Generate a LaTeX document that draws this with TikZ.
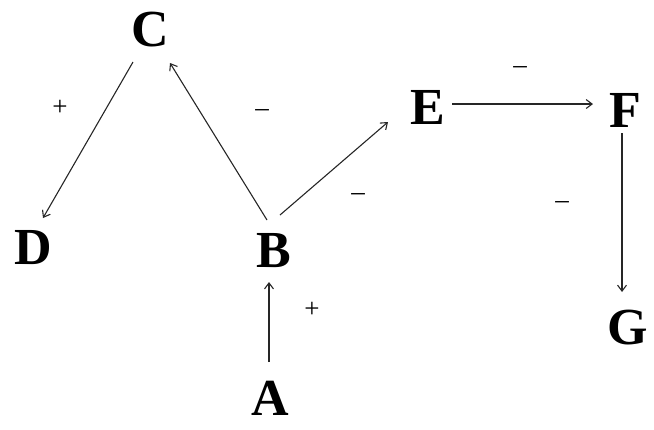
\documentclass[tikz,border=0pt]{standalone}
\usepackage{fontspec}
\setmainfont{Liberation Serif}
\usetikzlibrary{arrows.meta}
\begin{document}
\begin{tikzpicture}[x=1pt,y=-1pt,
  letter/.style={font=\fontsize{52}{60}\selectfont\bfseries, inner sep=0pt},
  sign/.style={font=\fontsize{27}{30}\selectfont, inner sep=0pt},
  arr/.style={draw=black!85, line width=1.1pt, -{Straight Barb[length=6pt,width=9pt,line width=1.1pt]}}]
\useasboundingbox (0,0) rectangle (654,429);
\node[letter] (C) at (150,30) {C};
\node[letter] (D) at (33,248) {D};
\node[letter] (B) at (274,251) {B};
\node[letter] (A) at (270,398) {A};
\node[letter] (E) at (428,107) {E};
\node[letter] (F) at (625,110) {F};
\node[letter] (G) at (628,328) {G};
\draw[arr] ([shift={(-17,32)}]C.center) -- ([shift={(10,-30)}]D.center);
\draw[arr] ([shift={(-7,-31)}]B.center) -- ([shift={(20,33)}]C.center);
\draw[arr] ([shift={(6,-36)}]B.center) -- ([shift={(-40,15)}]E.center);
\draw[arr] ([shift={(-1,-36)}]A.center) -- ([shift={(-5,31)}]B.center);
\draw[arr] ([shift={(24,-3)}]E.center) -- ([shift={(-32,-6)}]F.center);
\draw[arr] ([shift={(-3,23)}]F.center) -- ([shift={(-6,-36)}]G.center);
\node[sign] (s1) at (60,108) {+};
\node[sign] (s2) at (262,113) {–};
\node[sign] (s3) at (358,197) {–};
\node[sign] (s4) at (312,310) {+};
\node[sign] (s5) at (520,70) {–};
\node[sign] (s6) at (562,205) {–};
\end{tikzpicture}
\end{document}
